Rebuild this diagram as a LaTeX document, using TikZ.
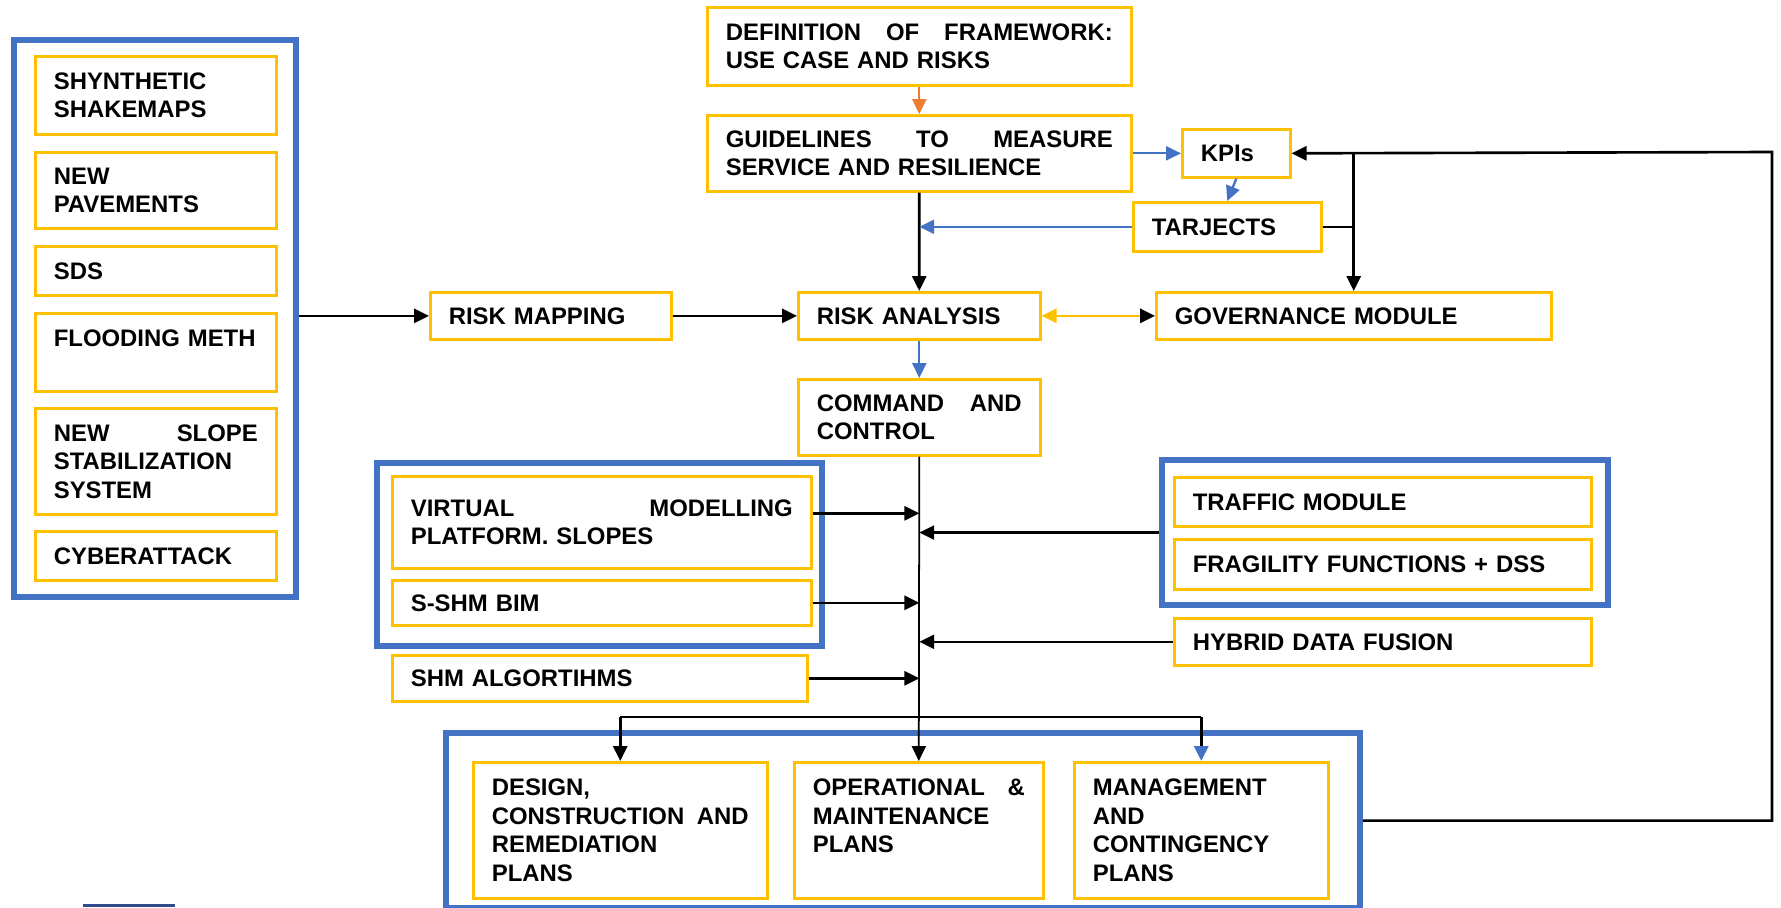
\documentclass[tikz,border=0pt]{standalone}
\usepackage{fontspec}
\setmainfont{Liberation Sans}
\usetikzlibrary{arrows.meta}

\definecolor{boxyellow}{HTML}{FFC000}
\definecolor{grpblue}{HTML}{4472C4}
\definecolor{arrorange}{HTML}{ED7D31}
\definecolor{barblue}{HTML}{2F4B8C}

\newcommand{\boxfont}{\fontsize{13.6}{16.2}\selectfont\bfseries}

\tikzset{
  blk/.style={draw=boxyellow, line width=1.5pt, font=\boxfont, align=left,
    inner xsep=0.37cm, inner ysep=0pt, anchor=north west},
  grp/.style={draw=grpblue, line width=3.5pt, inner sep=0pt, anchor=north west},
  link/.style={line width=1.5pt},
  arr/.style={link, -{Triangle[length=8.5pt,width=8pt]}},
  bluearr/.style={arr, draw=grpblue, line width=1.3pt},
}

\begin{document}
\begin{tikzpicture}[x=0.02cm, y=-0.02cm]
    \useasboundingbox (0,0) rectangle (1781,907);

    % blue frames
    \node[grp, minimum width=5.64cm, minimum height=11.14cm] (hazards) at (11,37) {};
    \node[grp, minimum width=8.90cm, minimum height=3.66cm] (models) at (374,460) {};
    \node[grp, minimum width=8.92cm, minimum height=2.90cm] (services) at (1159,457) {};
    \node[grp, minimum width=18.28cm, minimum height=3.50cm] (plans) at (443,730) {};

    % hazard inputs
    \node[blk, text width=4.08cm, minimum height=1.56cm] (shake) at (34,55) {SHYNTHETIC\\SHAKEMAPS};
    \node[blk, text width=4.08cm, minimum height=1.52cm] (pave) at (34,151) {NEW\\PAVEMENTS};
    \node[blk, text width=4.08cm, minimum height=0.98cm] (sds) at (34,245) {SDS};
    \node[blk, text width=4.08cm, minimum height=1.56cm] (flood) at (34,312) {\mbox{FLOODING METH}\\~};
    \node[blk, text width=4.08cm, minimum height=2.12cm] (slope) at (34,407) {NEW \hfill SLOPE\\STABILIZATION\\SYSTEM};
    \node[blk, text width=4.08cm, minimum height=0.98cm] (cyber) at (34,530) {CYBERATTACK};

    % framework and kpis
    \node[blk, text width=7.74cm, minimum height=1.56cm] (frame) at (706,6) {DEFINITION \hfill OF \hfill FRAMEWORK:\\USE CASE AND RISKS};
    \node[blk, text width=7.74cm, minimum height=1.52cm] (guide) at (706,114) {GUIDELINES \hfill TO \hfill MEASURE\\SERVICE AND RESILIENCE};
    \node[blk, text width=1.42cm, minimum height=0.96cm] (kpi) at (1181,128) {KPIs};
    \node[blk, text width=3.02cm, minimum height=0.98cm] (tarj) at (1132,201) {TARJECTS};

    % risk row
    \node[blk, text width=4.08cm, minimum height=0.94cm] (riskmap) at (429,291) {RISK MAPPING};
    \node[blk, text width=4.10cm, minimum height=0.94cm] (riskan) at (797,291) {RISK ANALYSIS};
    \node[blk, text width=7.16cm, minimum height=0.94cm] (gov) at (1155,291) {GOVERNANCE MODULE};
    \node[blk, text width=4.10cm, minimum height=1.52cm] (cmd) at (797,378) {COMMAND \hfill AND\\CONTROL};

    % side modules
    \node[blk, text width=7.64cm, minimum height=1.84cm] (virt) at (391,475) {VIRTUAL \hfill MODELLING\\PLATFORM. SLOPES};
    \node[blk, text width=7.64cm, minimum height=0.90cm] (sshm) at (391,579) {S-SHM BIM};
    \node[blk, text width=7.56cm, minimum height=0.92cm] (shmalg) at (391,654) {SHM ALGORTIHMS};
    \node[blk, text width=7.60cm, minimum height=0.98cm] (trafmod) at (1173,476) {TRAFFIC MODULE};
    \node[blk, text width=7.60cm, minimum height=1.00cm] (fragil) at (1173,538) {FRAGILITY FUNCTIONS + DSS};
    \node[blk, text width=7.60cm, minimum height=0.94cm] (hybrid) at (1173,617) {HYBRID DATA FUSION};

    % plans
    \node[blk, text width=5.14cm, minimum height=2.72cm] (design) at (472,761) {DESIGN,\\CONSTRUCTION \hfill AND\\REMEDIATION\\PLANS};
    \node[blk, text width=4.24cm, minimum height=2.72cm] (oper) at (793,761) {OPERATIONAL \hfill \&\\MAINTENANCE\\PLANS\\~};
    \node[blk, text width=4.34cm, minimum height=2.72cm] (manage) at (1073,761) {MANAGEMENT\\AND\\CONTINGENCY\\PLANS};

    % top chain
    \draw[arr, draw=arrorange, line width=1.3pt] (frame.south) -- (guide.north);
    \draw[arr] (guide.south) -- (riskan.north);
    \draw[bluearr] (guide.east |- kpi.west) -- (kpi.west);
    \draw[bluearr] (kpi.south) -- (tarj.north);
    \draw[bluearr] (tarj.west) -- (tarj.west -| guide.south);

    % risk row
    \draw[arr] (hazards.east |- riskmap.west) -- (riskmap.west);
    \draw[arr] (riskmap) -- (riskan);
    \draw[link, draw=boxyellow, {Triangle[length=8.5pt,width=8pt,color=boxyellow]}-{Triangle[length=8.5pt,width=8pt,color=black]}] (riskan) -- (gov);
    \draw[bluearr] (riskan) -- (cmd);

    % feedback from the plans
    \coordinate (back) at (1772,152);
    \draw[arr] (plans.east) -| (back) -- (kpi.east);
    \draw[arr] (gov.north |- kpi.east) -- (gov.north);
    \draw[link] (tarj.east) -- (tarj.east -| gov.north);

    % command bus
    \draw[line width=1pt, -{Triangle[length=8.5pt,width=8pt]}] (cmd.south) -- (oper.north);
    \coordinate (virtout) at ([yshift=0.18cm]virt.east);
    \draw[arr] (virtout) -- (virtout -| cmd.south);
    \draw[arr] (sshm.east) -- (sshm.east -| cmd.south);
    \draw[arr] (shmalg.east) -- (shmalg.east -| cmd.south);
    \draw[arr] (services.west) -- (services.west -| cmd.south);
    \draw[arr] (hybrid.west) -- (hybrid.west -| cmd.south);

    % split to the plans
    \coordinate (split) at (918,717);
    \draw[link] (design.north |- split) -- (manage.north |- split);
    \draw[arr] (design.north |- split) -- (design.north);
    \draw[link, -{Triangle[length=8.5pt,width=8pt,color=grpblue]}] (manage.north |- split) -- (manage.north);

    \fill[barblue] (83,904) rectangle (175,907);
\end{tikzpicture}
\end{document}
